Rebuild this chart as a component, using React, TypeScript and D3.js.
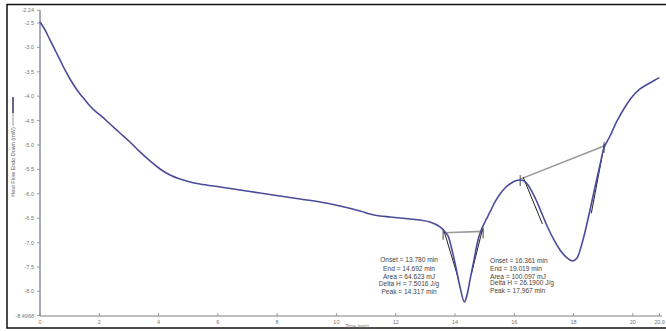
import React from "react";
import * as d3 from "d3";

// DSC heat flow trace: time (min) vs heat flow (mW)
const timeMin = [
  0.0, 0.169, 0.337, 0.506, 0.675, 0.843, 1.012, 1.181, 1.35, 1.518, 1.687, 1.856, 2.024,
  2.362, 2.699, 3.036, 3.374, 3.711, 4.049, 4.386, 4.723, 5.061, 5.398, 6.073, 6.748, 7.422,
  8.097, 8.772, 9.447, 10.121, 10.796, 11.134, 11.471, 11.808, 12.146, 12.483, 12.821, 13.158,
  13.495, 13.664, 13.765, 13.9, 14.035, 14.17, 14.317, 14.406, 14.507, 14.642, 14.777, 14.912,
  15.047, 15.182, 15.351, 15.52, 15.688, 15.857, 16.026, 16.194, 16.329, 16.464, 16.599, 16.768,
  16.937, 17.139, 17.341, 17.544, 17.746, 17.881, 17.967, 18.117, 18.252, 18.387, 18.556, 18.725,
  18.893, 19.028, 19.231, 19.467, 19.737, 19.973, 20.243, 20.513, 20.749, 20.9,
];
const heatFlow = [
  -2.48, -2.643, -2.848, -3.053, -3.258, -3.463, -3.648, -3.811, -3.955, -4.078, -4.201, -4.303,
  -4.385, -4.57, -4.754, -4.939, -5.143, -5.328, -5.492, -5.615, -5.697, -5.758, -5.799, -5.861,
  -5.922, -5.984, -6.045, -6.107, -6.168, -6.25, -6.352, -6.414, -6.455, -6.475, -6.496, -6.516,
  -6.537, -6.578, -6.68, -6.783, -6.865, -7.152, -7.52, -7.91, -8.217, -8.074, -7.766, -7.357,
  -6.947, -6.701, -6.537, -6.373, -6.168, -6.004, -5.881, -5.799, -5.738, -5.717, -5.738, -5.82,
  -5.963, -6.168, -6.414, -6.701, -6.947, -7.152, -7.295, -7.357, -7.377, -7.316, -7.09, -6.783,
  -6.332, -5.861, -5.41, -5.061, -4.816, -4.508, -4.221, -4.016, -3.852, -3.75, -3.668, -3.62,
];

const yTicks = [-2.24, -2.5, -3.0, -3.5, -4.0, -4.5, -5.0, -5.5, -6.0, -6.5, -7.0, -7.5, -8.0, -8.4968];
const yTickLabels = ["-2.24", "-2.5", "-3.0", "-3.5", "-4.0", "-4.5", "-5.0", "-5.5", "-6.0", "-6.5", "-7.0", "-7.5", "-8.0", "-8.4968"];
const xTicks = [0, 2, 4, 6, 8, 10, 12, 14, 16, 18, 20, 20.9];
const xTickLabels = ["0", "2", "4", "6", "8", "10", "12", "14", "16", "18", "20", "20.9"];

// Integration baselines [t0, v0, t1, v1]
const baselines = [
  [13.6, -6.8, 14.95, -6.77],
  [16.2, -5.7, 19.03, -5.02],
];
// Onset / end tangent segments [t0, v0, t1, v1]
const tangents = [
  [13.62, -6.74, 14.12, -7.75],
  [14.93, -6.72, 14.55, -7.65],
  [16.3, -5.66, 16.95, -6.62],
  [19.04, -4.98, 18.6, -6.4],
];

const peak1Lines = [
  "Onset = 13.780 min",
  "End = 14.692 min",
  "Area = 64.623 mJ",
  "Delta H = 7.5016 J/g",
  "Peak = 14.317 min",
];
const peak2Lines = [
  "Onset = 16.361 min",
  "End = 19.019 min",
  "Area = 100.097 mJ",
  "Delta H = 26.1900 J/g",
  "Peak = 17.967 min",
];

const W = 666;
const H = 331;

export default function App() {
  const x = d3.scaleLinear().domain([0, 20.9]).range([40, 659.5]);
  const y = d3.scaleLinear().domain([-2.24, -8.4968]).range([10.3, 315.6]);

  const pts = timeMin.map((t, i) => [t, heatFlow[i]] as [number, number]);
  const line = d3
    .line<[number, number]>()
    .x((d) => x(d[0]))
    .y((d) => y(d[1]))
    .curve(d3.curveCatmullRom.alpha(0.5));

  const font = "Arial, 'Liberation Sans', sans-serif";
  const lineYs = [262, 270.5, 278.5, 285.5, 294];
  const lineYs2 = [263, 271, 278.5, 285, 292.5];

  return (
    <svg
      width={W}
      height={H}
      style={{ position: "absolute", left: 0, top: 0, background: "#fff" }}
      fontFamily={font}
    >
      {/* frame */}
      <rect x={7} y={4.5} width={670} height={323.5} fill="none" stroke="#111" strokeWidth={1.5} />

      {/* y axis */}
      <line x1={40} x2={40} y1={y(-2.24)} y2={316} stroke="#55557a" strokeWidth={1} />
      {yTicks.map((v, i) => (
        <g key={"y" + i}>
          <line x1={37} x2={40} y1={y(v)} y2={y(v)} stroke="#888" strokeWidth={0.8} />
          <text x={34} y={y(v) + 2} fontSize={5.5} fill="#777" textAnchor="end">
            {yTickLabels[i]}
          </text>
        </g>
      ))}

      {/* x axis */}
      <line x1={40} x2={662} y1={316} y2={316} stroke="#aaa" strokeWidth={1.5} />
      {xTicks.map((t, i) => (
        <g key={"x" + i}>
          <line x1={x(t)} x2={x(t)} y1={313} y2={316} stroke="#888" strokeWidth={0.8} />
          <text x={x(t)} y={323.5} fontSize={5.5} fill="#777" textAnchor="middle">
            {xTickLabels[i]}
          </text>
        </g>
      ))}
      <text x={357} y={328} fontSize={5} fill="#777" textAnchor="middle">
        Time (min)
      </text>

      {/* y axis title with legend swatch */}
      <line x1={13} x2={13} y1={97} y2={113} stroke="#333366" strokeWidth={1.5} />
      <line x1={13} x2={13} y1={113} y2={126} stroke="#999" strokeWidth={1} />
      <text
        transform={`translate(14.5, 162) rotate(-90)`}
        fontSize={5.5}
        fill="#666"
        textAnchor="middle"
      >
        Heat Flow Endo Down (mW)
      </text>

      {/* baselines */}
      {baselines.map((b, i) => (
        <g key={"b" + i}>
          <line x1={x(b[0])} y1={y(b[1])} x2={x(b[2])} y2={y(b[3])} stroke="#999" strokeWidth={1.6} />
          <line x1={x(b[0])} x2={x(b[0])} y1={y(b[1]) - 4} y2={y(b[1]) + 7} stroke="#333" strokeWidth={0.9} />
          <line x1={x(b[2])} x2={x(b[2])} y1={y(b[3]) - 4} y2={y(b[3]) + 7} stroke="#333" strokeWidth={0.9} />
        </g>
      ))}
      {tangents.map((s, i) => (
        <line
          key={"t" + i}
          x1={x(s[0])}
          y1={y(s[1])}
          x2={x(s[2])}
          y2={y(s[3])}
          stroke="#222"
          strokeWidth={1}
        />
      ))}

      {/* data */}
      <path d={line(pts) ?? ""} fill="none" stroke="#4b4b9a" strokeWidth={1.6} />

      {/* peak annotations */}
      {peak1Lines.map((s, i) => (
        <text key={"p1" + i} x={409} y={lineYs[i]} fontSize={6.6} fill="#444" textAnchor="middle">
          {s}
        </text>
      ))}
      {peak2Lines.map((s, i) => (
        <text key={"p2" + i} x={490} y={lineYs2[i]} fontSize={6.6} fill="#444" textAnchor="start">
          {s}
        </text>
      ))}
    </svg>
  );
}
